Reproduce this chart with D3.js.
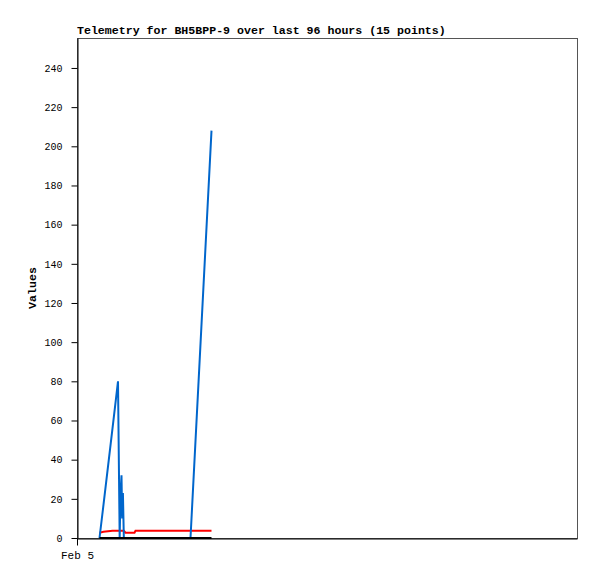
<!DOCTYPE html>
<html><head><meta charset="utf-8">
<script src="https://cdn.jsdelivr.net/npm/d3@7"></script>
<style>body{margin:0;background:#fff}svg{display:block}</style>
</head><body>
<script>
const times = ["2024-02-05 04:30","2024-02-05 05:18","2024-02-05 07:06","2024-02-05 08:12","2024-02-05 08:32",
  "2024-02-05 08:42","2024-02-05 08:54","2024-02-05 09:02","2024-02-05 09:11","2024-02-05 09:22",
  "2024-02-05 09:42","2024-02-05 11:30","2024-02-05 11:42","2024-02-05 22:42","2024-02-06 02:54"];
const blueValues = [0,17,56,80,0,22,32,10,23,0,0,0,0,0,208];
const redValues = [2.7,3.2,3.7,3.7,3.7,3.7,3.7,3.7,3.7,3.7,2.7,2.7,3.7,3.7,3.7];
const blackValues = [0,0,0,0,0,0,0,0,0,0,0,0,0,0,0];
const yTicks = [0,20,40,60,80,100,120,140,160,180,200,220,240];
const xTickLabels = ["Feb 5"];
const xDomain = ["2024-02-05 00:00","2024-02-09 04:00"];
const yMax = 255.3;

const W=597,H=579, L=77, R=577, T=38, B=538;
const parse = d3.utcParse("%Y-%m-%d %H:%M");
const svg = d3.select("body").append("svg").attr("width",W).attr("height",H);
const x = d3.scaleUtc().domain(xDomain.map(parse)).range([L,R]);
const y = d3.scaleLinear().domain([0,yMax]).range([B,T]);

svg.append("rect").attr("x",L+0.5).attr("y",T+0.5).attr("width",R-L).attr("height",B-T)
  .attr("fill","none").attr("stroke","#555");

const mono = "'Liberation Mono', 'DejaVu Sans Mono', monospace";
const yAxis = d3.axisLeft(y).tickValues(yTicks).tickSize(6).tickSizeOuter(0).tickPadding(9);
const gy = svg.append("g").attr("transform",`translate(${L+0.5},0)`).call(yAxis);
gy.select(".domain").attr("stroke","#000");
gy.selectAll("text").attr("font-family",mono).attr("font-size","10px").attr("fill","#000");

const xAxis = d3.axisBottom(x).tickValues([parse(xDomain[0])]).tickFormat((d,i)=>xTickLabels[i])
  .tickSize(7).tickSizeOuter(0).tickPadding(6);
const gx = svg.append("g").attr("transform",`translate(0,${B+0.5})`).call(xAxis);
gx.select(".domain").attr("stroke","#000");
gx.selectAll("text").attr("font-family",mono).attr("font-size","11px").attr("fill","#000");

const pts = vals => vals.map((v,i)=>[parse(times[i]), v]);
const line = d3.line().x(d=>x(d[0])).y(d=>y(d[1]));
svg.append("path").datum(pts(redValues)).attr("d",line).attr("fill","none").attr("stroke","#ff0000").attr("stroke-width",2);
svg.append("path").datum(pts(blueValues)).attr("d",line).attr("fill","none").attr("stroke","#0066cc").attr("stroke-width",2);
svg.append("path").datum(pts(blackValues)).attr("d",line).attr("fill","none").attr("stroke","#000").attr("stroke-width",2);

svg.append("text").attr("x",L).attr("y",34).attr("font-family",mono).attr("font-weight","bold")
  .attr("font-size","11.6px").text("Telemetry for BH5BPP-9 over last 96 hours (15 points)");
svg.append("text").attr("transform",`translate(36,${(T+B)/2}) rotate(-90)`).attr("text-anchor","middle")
  .attr("font-family",mono).attr("font-weight","bold").attr("font-size","11.6px").text("Values");
</script>
</body></html>
